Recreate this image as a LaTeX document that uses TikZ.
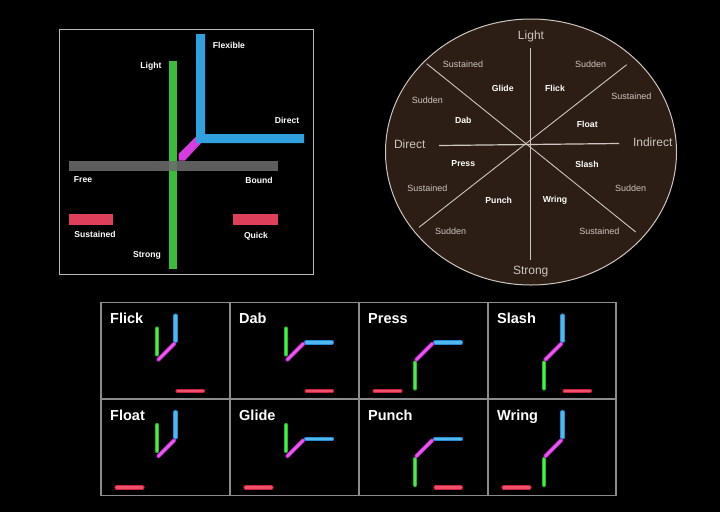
\documentclass[tikz,border=0pt]{standalone}
\usepackage{fontspec}
\setmainfont{Liberation Sans}
\definecolor{tlgreen}{RGB}{58,190,58}
\definecolor{tlblue}{RGB}{48,160,222}
\definecolor{tlmag}{RGB}{215,60,222}
\definecolor{tlgray}{RGB}{108,108,108}
\definecolor{tlred}{RGB}{222,64,90}
\definecolor{wbrown}{RGB}{44,30,20}
\definecolor{wline}{RGB}{205,198,190}
\definecolor{wtext}{RGB}{204,198,192}
\definecolor{cgreen}{RGB}{30,190,30}
\definecolor{cgreenl}{RGB}{80,235,80}
\definecolor{cblue}{RGB}{35,140,210}
\definecolor{cbluel}{RGB}{80,185,240}
\definecolor{cmag}{RGB}{195,40,205}
\definecolor{cmagl}{RGB}{235,90,240}
\definecolor{cred}{RGB}{205,35,65}
\definecolor{credl}{RGB}{240,80,105}
\definecolor{gridgray}{RGB}{140,140,140}
\newcommand\effGU{\draw[gstick] (56,26) -- (56,52);}
\newcommand\effGD{\draw[gstick] (56,60) -- (56,86);}
\newcommand\effBU{\draw[bstick] (74.5,13) -- (74.5,38.5);}
\newcommand\effBH{\draw[bstick] (76,40) -- (102,40);}
\newcommand\effRR{\draw[rstick] (76.5,88.5) -- (102,88.5);}
\newcommand\effRL{\draw[rstick] (15.5,88.5) -- (41.5,88.5);}
\newcommand\effM{\draw[mstick] (57.5,57) -- (73,41.5);}
\begin{document}
\begin{tikzpicture}[x=1pt,y=-1pt,
  tllbl/.style={text=white,font=\fontsize{8.6}{10}\selectfont\bfseries,inner sep=0pt},
  wlbl/.style={text=wtext,font=\fontsize{9}{11}\selectfont,inner sep=0pt},
  blbl/.style={text=white,font=\fontsize{8.7}{10}\selectfont\bfseries,inner sep=0pt},
  axlbl/.style={text=wtext,font=\fontsize{12}{14}\selectfont,inner sep=0pt},
  celltitle/.style={text=white,font=\fontsize{14.5}{16}\selectfont\bfseries,inner sep=0pt,anchor=base west},
  stickbase/.style={line width=1pt,double distance=2.2pt,line cap=round},
  gstick/.style={stickbase,draw=cgreen,double=cgreenl},
  bstick/.style={stickbase,draw=cblue,double=cbluel},
  mstick/.style={stickbase,draw=cmag,double=cmagl},
  rstick/.style={stickbase,draw=cred,double=credl},
  wedge/.style={draw=wline,line width=1.2pt}]
\fill[black] (0,0) rectangle (720,512);
\useasboundingbox (0,0) rectangle (720,512);

% ---------- top-left panel ----------
\draw[draw=white!72!black,line width=1pt] (59.5,29) rectangle (313.5,274.5);
\fill[tlgreen] (169,61) rectangle (177,269);
\fill[tlmag] (178.7,154) -- (197,135.5) -- (203,141) -- (184.7,160.7) -- (178.7,160.7) -- cycle;
\fill[tlblue] (196,34) -- (205,34) -- (205,134) -- (304,134) -- (304,143) -- (196,143) -- cycle;
\fill[tlgray,opacity=0.88] (69,161) rectangle (278,171);
\fill[tlred] (68.5,214) rectangle (113,224.5);
\fill[tlred] (233,214) rectangle (278,224.5);
\node[tllbl] (nFlex) at (229,45) {Flexible};
\node[tllbl] (nLight) at (151,66.5) {Light};
\node[tllbl] (nDirect) at (287,120.5) {Direct};
\node[tllbl] (nFree) at (83,180) {Free};
\node[tllbl] (nBound) at (259,180.5) {Bound};
\node[tllbl] (nSust) at (95,234) {Sustained};
\node[tllbl] (nQuick) at (256,236.5) {Quick};
\node[tllbl] (nStrong) at (147,255.5) {Strong};

% ---------- wheel ----------
\draw[fill=wbrown,draw=wline,line width=1pt] (531,152) ellipse [x radius=145.5pt, y radius=133pt];
\coordinate (vT) at (530.7,48);
\coordinate (vB) at (530.7,259.7);
\coordinate (hL) at (439,145.5);
\coordinate (hR) at (619,143.5);
\coordinate (dA1) at (426.7,63.7);
\coordinate (dA2) at (635.7,232);
\coordinate (dB1) at (626.7,64.7);
\coordinate (dB2) at (419,227.3);
\draw[wedge] (vT) -- (vB);
\draw[wedge] (hL) -- (hR);
\draw[wedge,line width=0.9pt] (dA1) -- (dA2);
\draw[wedge,line width=0.9pt] (dB1) -- (dB2);
\node[axlbl] (wLight) at (531,36) {Light};
\node[axlbl] (wStrong) at (530.7,272) {Strong};
\node[axlbl] (wDirect) at (409.7,144) {Direct};
\node[axlbl] (wIndirect) at (652.7,142) {Indirect};
\node[wlbl] (s1) at (463,64) {Sustained};
\node[wlbl] (s2) at (590.7,64) {Sudden};
\node[wlbl] (s3) at (427.3,100) {Sudden};
\node[wlbl] (s4) at (631.3,96) {Sustained};
\node[wlbl] (s5) at (427.3,188) {Sustained};
\node[wlbl] (s6) at (630.7,188) {Sudden};
\node[wlbl] (s7) at (450.7,231.7) {Sudden};
\node[wlbl] (s8) at (599.3,231.7) {Sustained};
\node[blbl] (bGlide) at (502.7,88) {Glide};
\node[blbl] (bFlick) at (555,88) {Flick};
\node[blbl] (bDab) at (463.3,120) {Dab};
\node[blbl] (bFloat) at (587.3,124) {Float};
\node[blbl] (bPress) at (463.3,164) {Press};
\node[blbl] (bSlash) at (587,164.7) {Slash};
\node[blbl] (bPunch) at (498.7,200) {Punch};
\node[blbl] (bWring) at (555,200.5) {Wring};

% ---------- grid ----------
\draw[gridgray,line width=1.3pt] (101,302.5) rectangle (616,495.5);
\draw[gridgray,line width=1.3pt] (101,399) -- (616,399);
\draw[gridgray,line width=1.3pt] (230,302.5) -- (230,495.5);
\draw[gridgray,line width=1.3pt] (359,302.5) -- (359,495.5);
\draw[gridgray,line width=1.3pt] (488,302.5) -- (488,495.5);

\begin{scope}[shift={(101,302.5)}]
  \node[celltitle] (tFlick) at (9,21) {Flick};
  \effGU \effBU \effM \effRR
\end{scope}
\begin{scope}[shift={(230,302.5)}]
  \node[celltitle] (tDab) at (9,21) {Dab};
  \effGU \effBH \effM \effRR
\end{scope}
\begin{scope}[shift={(359,302.5)}]
  \node[celltitle] (tPress) at (9,21) {Press};
  \effGD \effBH \effM \effRL
\end{scope}
\begin{scope}[shift={(488,302.5)}]
  \node[celltitle] (tSlash) at (9,21) {Slash};
  \effGD \effBU \effM \effRR
\end{scope}
\begin{scope}[shift={(101,399)}]
  \node[celltitle] (tFloat) at (9,21) {Float};
  \effGU \effBU \effM \effRL
\end{scope}
\begin{scope}[shift={(230,399)}]
  \node[celltitle] (tGlide) at (9,21) {Glide};
  \effGU \effBH \effM \effRL
\end{scope}
\begin{scope}[shift={(359,399)}]
  \node[celltitle] (tPunch) at (9,21) {Punch};
  \effGD \effBH \effM \effRR
\end{scope}
\begin{scope}[shift={(488,399)}]
  \node[celltitle] (tWring) at (9,21) {Wring};
  \effGD \effBU \effM \effRL
\end{scope}
\end{tikzpicture}
\end{document}
